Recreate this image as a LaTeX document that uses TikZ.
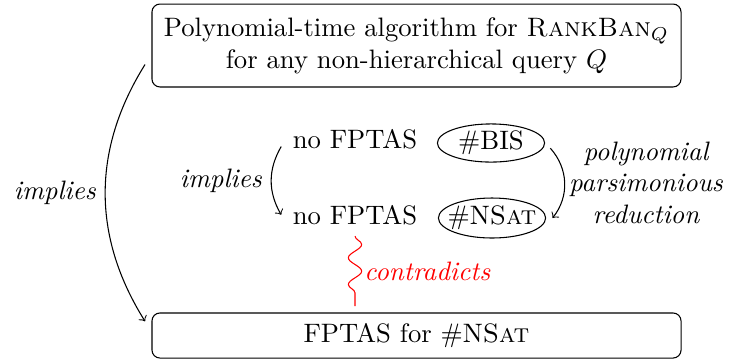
\documentclass[tikz,border=0pt]{standalone}
\usetikzlibrary{shapes.geometric,decorations.pathmorphing}
\begin{document}
\begin{tikzpicture}[x=0.375pt,y=-0.375pt,
  box/.style={draw, rounded corners=3pt, align=center, minimum width=198.4pt, outer sep=2.6pt},
  oval/.style={draw, ellipse, inner sep=0pt, minimum width=40.2pt, minimum height=14.3pt, outer sep=2.6pt},
  txt/.style={outer sep=1pt},
  lab/.style={font=\itshape}
]
\useasboundingbox (0,0) rectangle (729,358);
\node[box, minimum height=31.1pt] (top) at (416.5,45.5) {Polynomial-time algorithm for \textsc{RankBan}$_Q$\\ for any non-hierarchical query $Q$};
\node[box, minimum height=16.9pt] (bot) at (416.5,335.5) {FPTAS for \#N\textsc{Sat}};
\node[txt, anchor=base] (nf1) at (355,148) {no FPTAS};
\node[txt, anchor=base] (nf2) at (355,224) {no FPTAS};
\node[oval] (bis) at (491,143) {\#BIS};
\node[oval, inner xsep=-2.6pt, minimum height=15pt] (nsat) at (492,218) {\#N\textsc{Sat}};
\draw[->] (top.184) to[bend right=32] node[left, lab] {implies} (bot.177);
\draw[->] (nf1.186) to[bend right=30] node[left, lab] {implies} (nf2.west);
\draw[->] (bis.-5) to[bend left=40] node[right, lab, inner sep=1.5pt] {\shortstack{polynomial\\parsimonious\\reduction}} (nsat.east);
\draw[red, decorate, decoration={snake}] (nf2.south) -- (nf2.south |- bot.north) node[midway, right, lab] {contradicts};
\end{tikzpicture}
\end{document}
